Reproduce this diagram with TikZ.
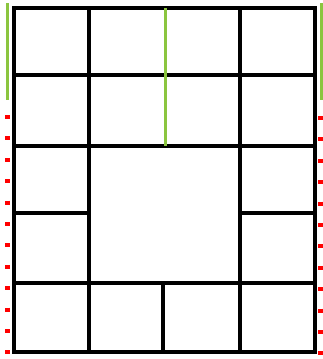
\documentclass[tikz,border=0pt]{standalone}
\usepackage{xcolor}
\usepackage{tikz}
\definecolor{lgreen}{RGB}{139,197,63}

\begin{document}
\begin{tikzpicture}[
  x=1pt, y=-1pt,
  wall/.style={draw, line width=4pt, line cap=rect},
  greenedge/.style={draw=lgreen, line width=3pt},
  reddots/.style={draw=red, line width=5pt, dash pattern=on 4pt off 17.4pt}
]
\useasboundingbox (0,0) rectangle (323,359);
% outer frame and full walls
\draw[wall] (14,8) rectangle (315,352);
\draw[wall] (14,75) -- (315,75);
\draw[wall] (14,146) -- (315,146);
\draw[wall] (14,283) -- (315,283);
\draw[wall] (89,8) -- (89,352);
\draw[wall] (240,8) -- (240,352);
% side rooms and bottom split
\draw[wall] (14,213) -- (89,213);
\draw[wall] (240,213) -- (315,213);
\draw[wall] (163,283) -- (163,352);
% green edges
\draw[greenedge] (165,8) -- (165,146);
\draw[greenedge] (7,3) -- (7,100);
\draw[greenedge] (321,3) -- (321,100);
% red dotted edges
\draw[reddots] (7,115) -- (7,359);
\draw[reddots] (320,116) -- (320,359);
\end{tikzpicture}
\end{document}
